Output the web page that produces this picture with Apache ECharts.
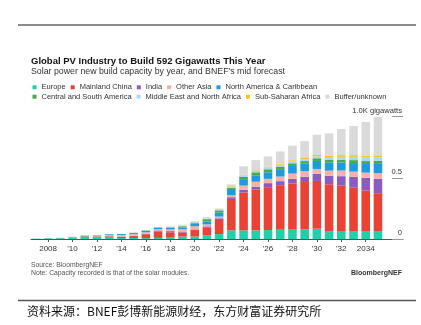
<!DOCTYPE html>
<html><head><meta charset="utf-8">
<script src="https://cdn.jsdelivr.net/npm/echarts@6/dist/echarts.min.js"></script>
<style>html,body{margin:0;padding:0;background:#fff}#c{width:421px;height:325px}</style>
</head><body><div id="c"></div>
<script>
const years = [2007,2008,2009,2010,2011,2012,2013,2014,2015,2016,2017,2018,2019,2020,2021,2022,2023,2024,2025,2026,2027,2028,2029,2030,2031,2032,2033,2034,2035];
const europe       = [2.5,5.5,7,14,22,17,11,8,8,7,9,11,20,20,30,40,70,70,70,73,76,76,78,84,65,60,60,60,60];
const china        = [0.2,0.2,0.3,0.5,2.5,4,11,11,16,32,52,44,33,53,62,115,257,309,333,350,363,377,387,390,382,377,358,336,314];
const india        = [0,0,0,0.1,0.3,1,1,1,2,4,9,9,8,5,11,14,14,22,24,33,33,38,43,57,68,76,89,103,117];
const otherAsia    = [0.3,0.5,1,1.5,2,5,10,12,13,12,11,14,18,26,16,14,16,35,41,35,38,43,46,41,43,46,43,43,46];
const northAmerica = [0.5,0.8,1,1.5,2.5,4,6,8,9,13,11,12,15,22,24,32,43,46,49,54,54,62,60,65,65,65,70,70,76];
const centralSouth = [0,0,0,0,0.2,0.3,0.5,1,2,2,3,5,10,7,19,19,16,24,27,24,27,22,22,22,22,22,24,24,24];
const mena         = [0,0,0,0,0.3,0.5,1,1,2,2,2,4,6,6,6,8,14,13,16,14,16,14,14,16,24,24,27,30,30];
const subSaharan   = [0,0,0,0,0,0.1,0.2,0.3,0.5,0.5,0.5,1,2,2,2,4,8,5,8,6,8,11,11,11,11,14,14,14,16];
const buffer       = [0,0,0,0.5,0.5,1,1.5,1.5,2,0.5,0,3,5,5,9,4,8,70,76,85,100,119,138,165,182,214,238,276,314];

const xTickValues = [2008,2010,2012,2014,2016,2018,2020,2022,2024,2026,2028,2030,2032,2034];
const xTickLabels = ['2008',"'10","'12","'14","'16","'18","'20","'22","'24","'26","'28","'30","'32",'2034'];
const yTickValues = [0,500,1000];
const yTickLabels = ['0','0.5','1.0K gigawatts'];

const seriesDefs = [
  ['Europe', europe, '#1ed1ad'],
  ['Mainland China', china, '#ea4336'],
  ['India', india, '#8c5bbd'],
  ['Other Asia', otherAsia, '#f8b1a9'],
  ['North America & Caribbean', northAmerica, '#1b9be0'],
  ['Central and South America', centralSouth, '#4aa94c'],
  ['Middle East and North Africa', mena, '#a9d9f4'],
  ['Sub-Saharan Africa', subSaharan, '#f6c41c'],
  ['Buffer/unknown', buffer, '#dadada']
];

const FONT = 'Liberation Sans, Arial, Helvetica, sans-serif';
const chart = echarts.init(document.getElementById('c'), null, {renderer:'canvas'});

// data rows are [value, year]; encode maps year to x so the value dimension is the stacked one
const series = seriesDefs.map(([name, arr, color]) => ({
  name, type:'bar', stack:'total', barWidth:8.6,
  itemStyle:{color},
  emphasis:{disabled:true},
  encode:{x:1, y:0},
  data: years.map((y,i)=>[arr[i], y])
}));

const legendText = {fontSize:7.5, color:'#333', fontFamily:FONT};

chart.setOption({
  animation:false,
  textStyle:{fontFamily:FONT},
  title:[
    {text:'Global PV Industry to Build 592 Gigawatts This Year', left:31, top:55.5, padding:0,
     textStyle:{fontSize:9.5, fontWeight:'bold', color:'#111', lineHeight:11, fontFamily:FONT}},
    {text:"Solar power new build capacity by year, and BNEF's mid forecast", left:31, top:66.8, padding:0,
     textStyle:{fontSize:8.8, fontWeight:'normal', color:'#333', lineHeight:10, fontFamily:FONT}},
    {text:'Source: BloombergNEF', left:31, top:261, padding:0,
     textStyle:{fontSize:6.8, fontWeight:'normal', color:'#555', lineHeight:8, fontFamily:FONT}},
    {text:'Note: Capacity recorded is that of the solar modules.', left:31, top:268.8, padding:0,
     textStyle:{fontSize:6.8, fontWeight:'normal', color:'#555', lineHeight:8, fontFamily:FONT}},
    {text:'BloombergNEF', right:19, top:268.8, padding:0,
     textStyle:{fontSize:7, fontWeight:'bold', color:'#333', lineHeight:8, fontFamily:FONT}},
    {text:'资料来源：BNEF彭博新能源财经，东方财富证券研究所', left:27, top:304, padding:0,
     textStyle:{fontSize:12, fontWeight:'normal', color:'#111', lineHeight:14, fontFamily:'Noto Sans CJK SC'}}
  ],
  legend:[
    {data:['Europe','Mainland China','India','Other Asia','North America & Caribbean'],
     left:32.5, top:83.3, padding:0, itemWidth:4, itemHeight:4, itemGap:5, icon:'rect',
     selectedMode:false, textStyle:legendText},
    {data:['Central and South America','Middle East and North Africa','Sub-Saharan Africa','Buffer/unknown'],
     left:32.5, top:92.7, padding:0, itemWidth:4, itemHeight:4, itemGap:5, icon:'rect',
     selectedMode:false, textStyle:legendText}
  ],
  grid:{left:31, right:18, top:116.5, bottom:86, containLabel:false, outerBoundsMode:'none'},
  xAxis:{
    type:'value', min:2006.6, max:2037.05,
    splitLine:{show:false},
    axisLine:{show:true, onZero:false, lineStyle:{color:'#555', width:1}},
    axisTick:{show:true, length:3, customValues:xTickValues, lineStyle:{color:'#555'}},
    axisLabel:{show:true, margin:6, fontSize:8, color:'#333', fontFamily:FONT,
      customValues:xTickValues,
      formatter:(v)=>{const i=xTickValues.indexOf(Math.round(v)); return i>=0?xTickLabels[i]:'';}}
  },
  yAxis:{
    type:'value', position:'right', min:0, max:1000, interval:500,
    splitLine:{show:false},
    axisLine:{show:false},
    axisTick:{show:true, inside:true, length:11, lineStyle:{color:'#999'}},
    axisLabel:{show:true, inside:true, margin:1, fontSize:7.6, color:'#333', fontFamily:FONT,
      verticalAlign:'bottom', padding:[0,0,2,0],
      formatter:(v)=>{const i=yTickValues.indexOf(v); return i>=0?yTickLabels[i]:'';}}
  },
  graphic:[
    {type:'line', shape:{x1:18,y1:25,x2:416,y2:25}, style:{stroke:'#666', lineWidth:1.3}, silent:true},
    {type:'line', shape:{x1:18,y1:300.5,x2:416,y2:300.5}, style:{stroke:'#555', lineWidth:1.7}, silent:true}
  ],
  series
});
</script></body></html>
